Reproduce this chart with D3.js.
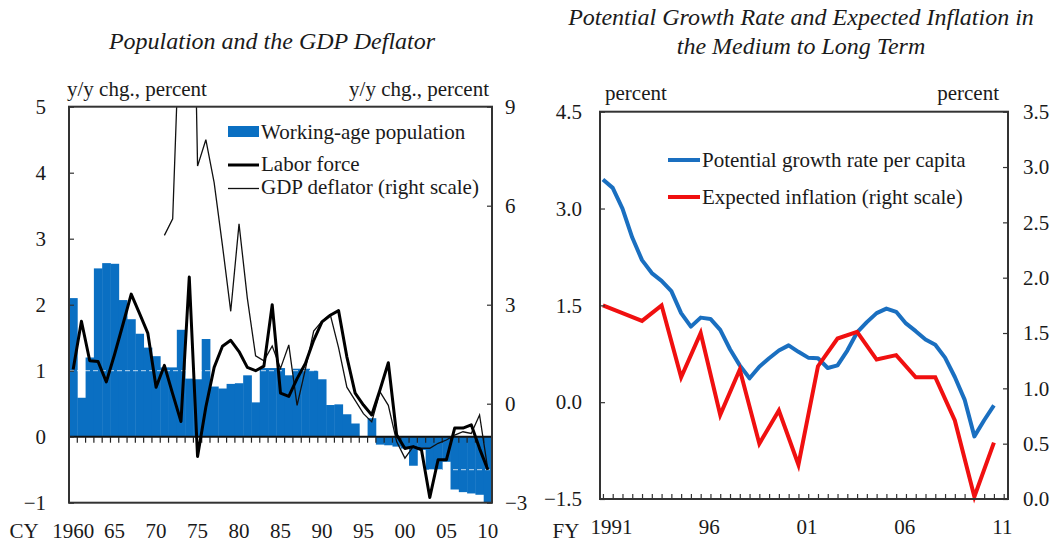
<!DOCTYPE html>
<html><head><meta charset="utf-8">
<script src="https://cdn.jsdelivr.net/npm/d3@7"></script>
<style>
body{margin:0;background:#fff}
text{font-family:"Liberation Serif","Times New Roman",serif;fill:#1a1a1a}
</style>
</head><body>
<svg id="c" width="1062" height="543"></svg>
<script>
// ---------- Left chart data (CY) ----------
const cyYears = d3.range(1960, 2011);
const workingAge = [2.10,0.59,1.20,2.55,2.63,2.62,2.07,1.78,1.56,1.35,
  1.22,1.05,1.05,1.62,0.88,0.87,1.48,0.76,0.73,0.80,
  0.81,0.93,0.52,1.04,1.04,1.04,0.93,1.03,1.03,1.00,
  0.87,0.48,0.49,0.34,0.20,0.01,0.28,-0.12,-0.13,-0.15,
  -0.18,-0.44,-0.20,-0.50,-0.50,-0.38,-0.80,-0.84,-0.86,-0.88,-1.00];
const laborForce = [1.02,1.75,1.15,1.14,0.83,1.25,1.70,2.16,1.87,1.57,
  0.75,1.08,0.65,0.23,2.42,-0.30,0.45,1.05,1.37,1.46,
  1.29,1.05,1.00,1.07,2.00,0.66,0.61,0.88,1.11,1.46,
  1.74,1.84,1.91,1.21,0.66,0.48,0.33,0.71,1.12,0.03,
  -0.18,-0.15,-0.20,-0.92,-0.35,-0.35,0.13,0.13,0.18,-0.18,-0.50];
const gdpDeflator = [null,null,null,null,null,null,null,null,null,null,
  null,5.1,5.6,12.7,20.8,7.2,8.0,6.7,4.8,2.8,
  5.45,3.2,1.45,1.3,1.75,1.07,1.78,-0.05,1.05,2.2,
  2.5,2.7,1.7,0.5,0.1,-0.3,-0.55,0.36,-0.05,-1.15,
  -1.65,-1.3,-1.35,-1.35,-1.2,-1.1,-0.95,-0.85,-0.9,-0.34,-2.0];
const leftTicksL = [-1,0,1,2,3,4,5];
const leftTicksR = [-3,0,3,6,9];
const cyLabelYears = [1960,1965,1970,1975,1980,1985,1990,1995,2000,2005,2010];
const cyLabels = ["1960","65","70","75","80","85","90","95","00","05","10"];

// ---------- Right chart data (FY) ----------
const fyHalf = d3.range(1991, 2011.01, 0.5);
const potentialGrowth = [3.45,3.32,3.00,2.55,2.20,2.00,1.88,1.72,1.38,1.17,
  1.31,1.29,1.12,0.82,0.57,0.37,0.55,0.68,0.80,0.88,
  0.78,0.69,0.68,0.53,0.57,0.80,1.08,1.24,1.38,1.45,
  1.40,1.22,1.10,0.97,0.89,0.69,0.39,0.04,-0.53,-0.28,-0.05];
const fyYears = d3.range(1991, 2012);
const expectedInflation = [1.75,1.68,1.61,1.75,1.10,1.50,0.76,1.17,0.50,0.80,
  0.31,1.20,1.45,1.51,1.26,1.30,1.10,1.10,0.71,0.02,0.51];
const rightTicksL = [-1.5,0,1.5,3,4.5];
const rightTicksR = [0,0.5,1,1.5,2,2.5,3,3.5];
const fyLabelYears = [1991,1996,2001,2006,2011];
const fyLabels = ["1991","96","01","06","11"];

const BAR = "#0a6fc2", BLUE = "#1a6fc0", RED = "#f01010", FRAME = "#333";
const svg = d3.select("#c");
const FS = 21, TFS = 24;

// ================= LEFT CHART =================
{
  const L = 69, R = 492, T = 106.7, B = 502.7;
  const x = d3.scaleBand().domain(cyYears).range([L, R]).padding(0);
  const yL = d3.scaleLinear().domain([-1, 5]).range([B, T]);
  const yR = d3.scaleLinear().domain([-3, 9]).range([B, T]);
  const g = svg.append("g");
  g.append("clipPath").attr("id","clipL").append("rect").attr("x",L).attr("y",T).attr("width",R-L).attr("height",B-T);

  // bars
  g.append("g").selectAll("rect").data(cyYears).join("rect")
    .attr("x", d => x(d)).attr("width", x.bandwidth() + 0.4)
    .attr("y", (d,i) => yL(Math.max(0, workingAge[i])))
    .attr("height", (d,i) => Math.abs(yL(workingAge[i]) - yL(0)))
    .attr("fill", BAR);

  // faint white dashed grid over bars
  [1, -0.5].forEach(v => g.append("line").attr("x1",L).attr("x2",R).attr("y1",yL(v)).attr("y2",yL(v))
    .attr("stroke","#fff").attr("stroke-width",1).attr("stroke-dasharray","5,3").attr("opacity",0.75));

  // zero line + ticks
  g.append("line").attr("x1",L).attr("x2",R).attr("y1",yL(0)).attr("y2",yL(0)).attr("stroke","#111").attr("stroke-width",2);
  g.append("g").selectAll("line").data(cyYears.slice(1)).join("line")
    .attr("x1", d => x(d)).attr("x2", d => x(d)).attr("y1", yL(0)).attr("y2", yL(0) + 6)
    .attr("stroke","#222").attr("stroke-width",1.2);

  // GDP deflator (thin, right scale)
  const lineR = d3.line().defined(d => d[1] != null).x(d => x(d[0]) + x.bandwidth()/2).y(d => yR(d[1]));
  g.append("path").datum(cyYears.map((d,i)=>[d,gdpDeflator[i]])).attr("d", lineR)
    .attr("clip-path","url(#clipL)").attr("fill","none").attr("stroke","#111").attr("stroke-width",1.3);
  // Labor force (thick, left scale)
  const lineL = d3.line().x(d => x(d[0]) + x.bandwidth()/2).y(d => yL(d[1]));
  g.append("path").datum(cyYears.map((d,i)=>[d,laborForce[i]])).attr("d", lineL)
    .attr("fill","none").attr("stroke","#000").attr("stroke-width",3).attr("stroke-linejoin","round");

  // frame
  g.append("rect").attr("x",L).attr("y",T).attr("width",R-L).attr("height",B-T)
    .attr("fill","none").attr("stroke",FRAME).attr("stroke-width",2);

  // axes
  const axL = g.append("g").attr("transform",`translate(${L},0)`)
    .call(d3.axisLeft(yL).tickValues(leftTicksL).tickFormat(d3.format("d")).tickSize(-5).tickPadding(23));
  const axR = g.append("g").attr("transform",`translate(${R},0)`)
    .call(d3.axisRight(yR).tickValues(leftTicksR).tickFormat(d3.format("d")).tickSize(-5).tickPadding(13));
  const axB = g.append("g").attr("transform",`translate(0,${B+17})`)
    .call(d3.axisBottom(x).tickValues(cyLabelYears).tickFormat((d,i)=>cyLabels[i]).tickSize(0).tickPadding(3));
  [axL, axR, axB].forEach(a => {
    a.select(".domain").remove();
    a.selectAll(".tick line").attr("stroke","#333").attr("stroke-width",1.2);
    a.selectAll("text").attr("font-size",FS).attr("font-family","Liberation Serif").attr("fill","#1a1a1a");
  });
  g.append("text").attr("x",24).attr("y",538).attr("text-anchor","middle").attr("font-size",FS).text("CY");
  g.append("text").attr("x",67).attr("y",96).attr("font-size",FS).text("y/y chg., percent");
  g.append("text").attr("x",489).attr("y",96).attr("text-anchor","end").attr("font-size",FS).text("y/y chg., percent");
  g.append("text").attr("x",272).attr("y",49).attr("text-anchor","middle").attr("font-size",TFS).attr("font-style","italic").text("Population and the GDP Deflator");

  // legend
  g.append("rect").attr("x",228).attr("y",126).attr("width",31).attr("height",11).attr("fill",BAR);
  g.append("text").attr("x",261).attr("y",139).attr("font-size",FS).text("Working-age population");
  g.append("line").attr("x1",228).attr("x2",259).attr("y1",165).attr("y2",165).attr("stroke","#000").attr("stroke-width",3);
  g.append("text").attr("x",261).attr("y",171).attr("font-size",FS).text("Labor force");
  g.append("line").attr("x1",228).attr("x2",259).attr("y1",188.5).attr("y2",188.5).attr("stroke","#111").attr("stroke-width",1.3);
  g.append("text").attr("x",261).attr("y",194).attr("font-size",FS).text("GDP deflator (right scale)");
}

// ================= RIGHT CHART =================
{
  const L = 600, R = 1008, T = 111.7, B = 499;
  const x = d3.scaleLinear().domain([1990.85, 2011.72]).range([L, R]);
  const yL = d3.scaleLinear().domain([-1.5, 4.5]).range([B, T]);
  const yR = d3.scaleLinear().domain([0, 3.5]).range([B, T]);
  const g = svg.append("g");

  // bottom ticks (inward)
  g.append("g").attr("transform",`translate(0,${B})`)
    .call(d3.axisBottom(x).tickValues(d3.range(1991, 2011.6, 0.5)).tickSize(-5).tickFormat(""))
    .call(a => { a.select(".domain").remove(); a.selectAll("line").attr("stroke","#333").attr("stroke-width",1.2); });

  // lines
  g.append("path").datum(fyHalf.map((d,i)=>[d,potentialGrowth[i]]))
    .attr("d", d3.line().x(d=>x(d[0])).y(d=>yL(d[1])))
    .attr("fill","none").attr("stroke",BLUE).attr("stroke-width",4).attr("stroke-linejoin","round");
  g.append("path").datum(fyYears.map((d,i)=>[d,expectedInflation[i]]))
    .attr("d", d3.line().x(d=>x(d[0])).y(d=>yR(d[1])))
    .attr("fill","none").attr("stroke",RED).attr("stroke-width",4).attr("stroke-linejoin","miter");

  // frame
  g.append("rect").attr("x",L).attr("y",T).attr("width",R-L).attr("height",B-T)
    .attr("fill","none").attr("stroke",FRAME).attr("stroke-width",2);

  const axL = g.append("g").attr("transform",`translate(${L},0)`)
    .call(d3.axisLeft(yL).tickValues(rightTicksL).tickFormat(d3.format(".1f")).tickSize(-5).tickPadding(18));
  const axR = g.append("g").attr("transform",`translate(${R},0)`)
    .call(d3.axisRight(yR).tickValues(rightTicksR).tickFormat(d3.format(".1f")).tickSize(-5).tickPadding(15));
  const axB = g.append("g").attr("transform",`translate(8,${B+17})`)
    .call(d3.axisBottom(x).tickValues(fyLabelYears).tickFormat((d,i)=>fyLabels[i]).tickSize(0).tickPadding(3));
  [axL, axR, axB].forEach(a => {
    a.select(".domain").remove();
    a.selectAll(".tick line").attr("stroke","#333").attr("stroke-width",1.2);
    a.selectAll("text").attr("font-size",FS).attr("font-family","Liberation Serif").attr("fill","#1a1a1a");
  });
  g.append("text").attr("x",566).attr("y",538).attr("text-anchor","middle").attr("font-size",FS).text("FY");
  g.append("text").attr("x",605).attr("y",100).attr("font-size",FS).text("percent");
  g.append("text").attr("x",999).attr("y",100).attr("text-anchor","end").attr("font-size",FS).text("percent");
  g.append("text").attr("x",801).attr("y",25).attr("text-anchor","middle").attr("font-size",TFS).attr("font-style","italic").text("Potential Growth Rate and Expected Inflation in");
  g.append("text").attr("x",801).attr("y",54).attr("text-anchor","middle").attr("font-size",TFS).attr("font-style","italic").text("the Medium to Long Term");

  // legend
  g.append("line").attr("x1",668).attr("x2",700).attr("y1",160).attr("y2",160).attr("stroke",BLUE).attr("stroke-width",4);
  g.append("text").attr("x",702).attr("y",167).attr("font-size",FS).text("Potential growth rate per capita");
  g.append("line").attr("x1",668).attr("x2",700).attr("y1",197).attr("y2",197).attr("stroke",RED).attr("stroke-width",4);
  g.append("text").attr("x",702).attr("y",204).attr("font-size",FS).text("Expected inflation (right scale)");
}
</script>
</body></html>
